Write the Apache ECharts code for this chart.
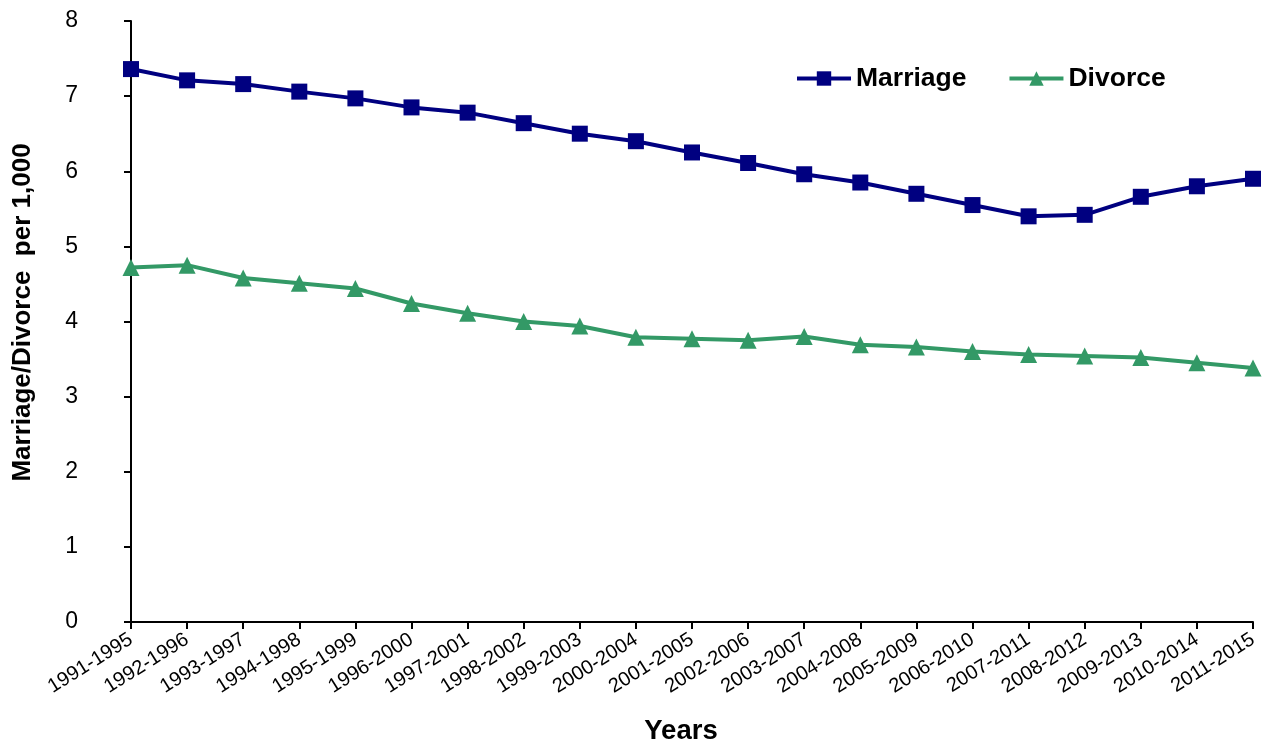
<!DOCTYPE html>
<html>
<head>
<meta charset="utf-8">
<script src="https://cdn.jsdelivr.net/npm/echarts@6/dist/echarts.min.js"></script>
<style>html,body{margin:0;padding:0;background:#fff}#c{width:1266px;height:740px}</style>
</head>
<body>
<div id="c"></div>
<script>
const categories = ["1991-1995","1992-1996","1993-1997","1994-1998","1995-1999","1996-2000","1997-2001","1998-2002","1999-2003","2000-2004","2001-2005","2002-2006","2003-2007","2004-2008","2005-2009","2006-2010","2007-2011","2008-2012","2009-2013","2010-2014","2011-2015"];
const marriage = [7.36,7.21,7.16,7.06,6.97,6.85,6.78,6.64,6.50,6.40,6.25,6.11,5.96,5.85,5.70,5.55,5.40,5.42,5.66,5.80,5.90];
const divorce = [4.72,4.75,4.58,4.51,4.44,4.24,4.11,4.00,3.94,3.79,3.77,3.75,3.80,3.69,3.66,3.60,3.56,3.54,3.52,3.45,3.38];
const yTicks = [0,1,2,3,4,5,6,7,8];

const chart = echarts.init(document.getElementById('c'));
const font = 'Arial, "Liberation Sans", sans-serif';
chart.setOption({
  animation: false,
  backgroundColor: '#fff',
  grid: {left: 131, right: 13, top: 21, bottom: 118, containLabel: false, outerBoundsMode: 'none'},
  legend: {
    left: 790, top: 60,
    itemWidth: 54, itemHeight: 18, itemGap: 41,
    lineStyle: {width: 4},
    textStyle: {fontFamily: font, fontSize: 26.5, fontWeight: 'bold', color: '#000'},
    data: ['Marriage', 'Divorce']
  },
  xAxis: {
    type: 'category',
    data: categories,
    boundaryGap: false,
    name: 'Years',
    nameLocation: 'middle',
    nameGap: 95,
    nameTextStyle: {fontFamily: font, fontSize: 27.5, fontWeight: 'bold', color: '#000', padding: [0, 22, 0, 0]},
    axisLine: {lineStyle: {color: '#000', width: 2}},
    axisTick: {alignWithLabel: true, length: 7, lineStyle: {color: '#000', width: 2}},
    axisLabel: {rotate: 32, margin: 16, fontFamily: font, fontSize: 20, color: '#000', interval: 0}
  },
  yAxis: {
    type: 'value',
    min: 0, max: 8, interval: 1,
    name: 'Marriage/Divorce  per 1,000',
    nameLocation: 'middle',
    nameGap: 95,
    nameRotate: 90,
    nameTextStyle: {fontFamily: font, fontSize: 26, fontWeight: 'bold', color: '#000', padding: [0, 0, 0, 18]},
    axisLine: {show: true, lineStyle: {color: '#000', width: 2}},
    axisTick: {show: true, length: 7, lineStyle: {color: '#000', width: 2}},
    splitLine: {show: false},
    axisLabel: {margin: 53, fontFamily: font, fontSize: 23, color: '#000',
      formatter: v => yTicks.includes(v) ? String(v) : ''}
  },
  series: [
    {name: 'Marriage', type: 'line', data: marriage, symbol: 'rect', symbolSize: 16,
     lineStyle: {color: '#000080', width: 4}, itemStyle: {color: '#000080'}},
    {name: 'Divorce', type: 'line', data: divorce, symbol: 'triangle', symbolSize: 17,
     lineStyle: {color: '#339966', width: 4}, itemStyle: {color: '#339966'}}
  ]
});
</script>
</body>
</html>
